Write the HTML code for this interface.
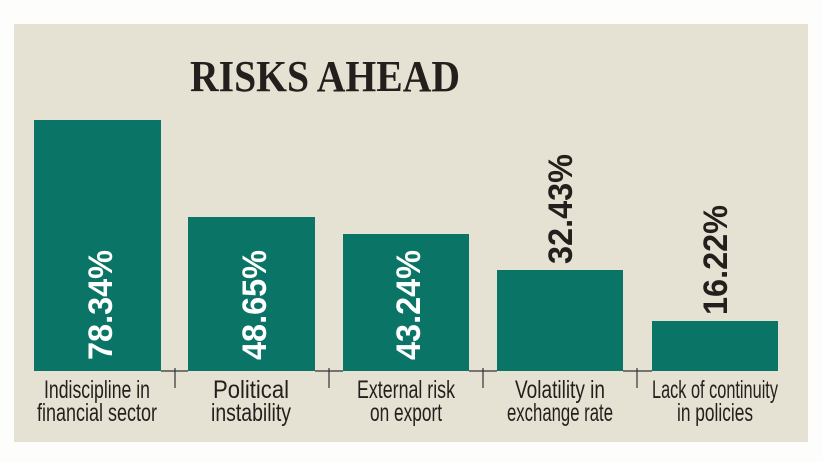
<!DOCTYPE html>
<html><head><style>body{margin:0;background:#fff}svg{display:block}</style></head><body>
<svg width="823" height="462" xmlns="http://www.w3.org/2000/svg">
<rect x="0" y="0" width="823" height="462" fill="#fdfdfb"/>
<rect x="14" y="24" width="794" height="418" fill="#e5e1d3"/>
<text x="190" y="91" font-family="Liberation Serif" font-weight="bold" font-size="44" fill="#231f1c" textLength="270" lengthAdjust="spacingAndGlyphs">RISKS AHEAD</text>
<g fill="#0a7567">
<rect x="34" y="120" width="127" height="251"/>
<rect x="188" y="217" width="127" height="154"/>
<rect x="343" y="234" width="126" height="137"/>
<rect x="497" y="270" width="126" height="101"/>
<rect x="652" y="321" width="126" height="50"/>
</g>
<g stroke="#333" stroke-width="1.2">
<line x1="161" y1="371" x2="188" y2="371"/><line x1="315" y1="371" x2="343" y2="371"/>
<line x1="469" y1="371" x2="497" y2="371"/><line x1="623" y1="371" x2="652" y2="371"/>
<line x1="175" y1="368" x2="175" y2="388"/><line x1="329" y1="368" x2="329" y2="388"/>
<line x1="483" y1="368" x2="483" y2="388"/><line x1="637" y1="368" x2="637" y2="388"/>
</g>
<g font-family="Liberation Sans" font-weight="bold" font-size="34">
<text transform="translate(112,360) rotate(-90)" fill="#fff" textLength="110" lengthAdjust="spacingAndGlyphs">78.34%</text>
<text transform="translate(266,360) rotate(-90)" fill="#fff" textLength="110" lengthAdjust="spacingAndGlyphs">48.65%</text>
<text transform="translate(420,360) rotate(-90)" fill="#fff" textLength="110" lengthAdjust="spacingAndGlyphs">43.24%</text>
<text transform="translate(572,264) rotate(-90)" fill="#231f1c" textLength="110" lengthAdjust="spacingAndGlyphs">32.43%</text>
<text transform="translate(727,315) rotate(-90)" fill="#231f1c" textLength="110" lengthAdjust="spacingAndGlyphs">16.22%</text>
</g>
<g font-family="Liberation Sans" font-size="25" fill="#231f1c" text-anchor="middle">
<text x="97" y="398" textLength="106" lengthAdjust="spacingAndGlyphs">Indiscipline in</text>
<text x="97" y="421" textLength="120" lengthAdjust="spacingAndGlyphs">financial sector</text>
<text x="251" y="398" textLength="76" lengthAdjust="spacingAndGlyphs">Political</text>
<text x="251" y="421" textLength="80" lengthAdjust="spacingAndGlyphs">instability</text>
<text x="406" y="398" textLength="98" lengthAdjust="spacingAndGlyphs">External risk</text>
<text x="406" y="421" textLength="72" lengthAdjust="spacingAndGlyphs">on export</text>
<text x="560" y="398" textLength="90" lengthAdjust="spacingAndGlyphs">Volatility in</text>
<text x="560" y="421" textLength="106" lengthAdjust="spacingAndGlyphs">exchange rate</text>
<text x="715" y="398" textLength="126" lengthAdjust="spacingAndGlyphs">Lack of continuity</text>
<text x="715" y="421" textLength="76" lengthAdjust="spacingAndGlyphs">in policies</text>
</g>
</svg>
</body></html>
